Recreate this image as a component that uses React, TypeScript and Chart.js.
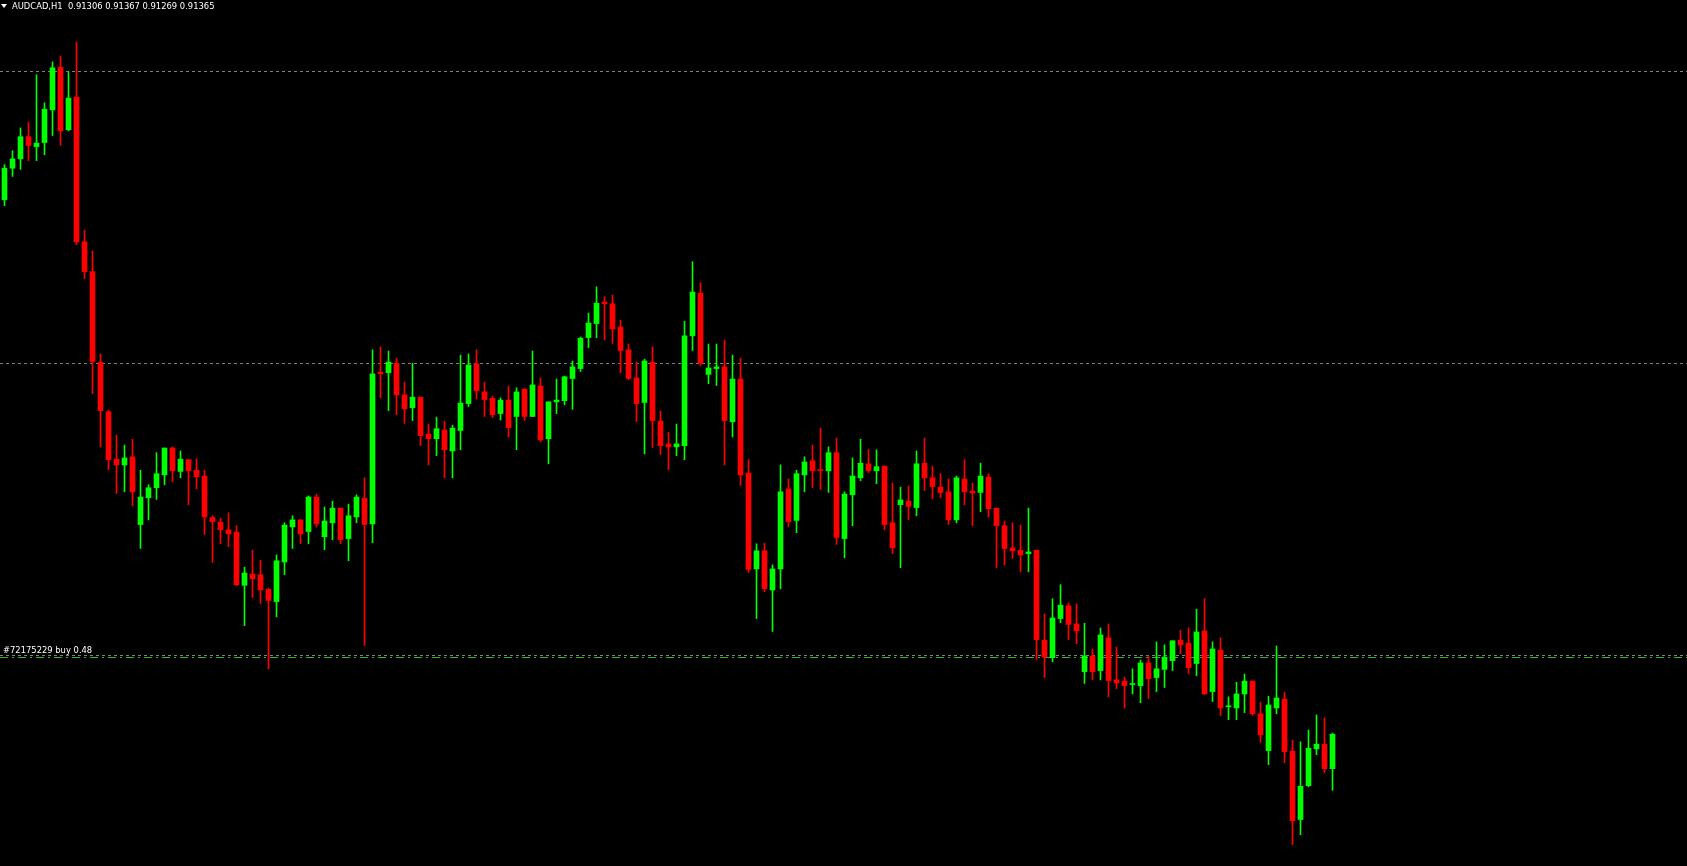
import React, { useEffect, useRef } from "react";
import { Chart, registerables } from "chart.js";

Chart.register(...registerables);

const symbolLabel = "AUDCAD,H1";
const orderLabel = "#72175229 buy 0.48";
const gridLevels = [0.915, 0.92, 0.925];
const orderLevel = 0.91497;
const upColor = "#00FF00";
const downColor = "#FF0000";
const gridColor = "#808080";
const orderColor = "#32B432";

const opens = [
  0.92280, 0.92334, 0.92350, 0.92388, 0.92371, 0.92378, 0.92434, 0.92507, 0.92400, 0.92456,
  0.92208, 0.92157, 0.92002, 0.91917, 0.91836, 0.91826, 0.91840, 0.91724, 0.91770, 0.91787,
  0.91809, 0.91855, 0.91815, 0.91835, 0.91817, 0.91807, 0.91736, 0.91728, 0.91715, 0.91711,
  0.91620, 0.91639, 0.91638, 0.91613, 0.91592, 0.91660, 0.91720, 0.91732, 0.91712, 0.91771,
  0.91703, 0.91727, 0.91752, 0.91700, 0.91737, 0.91769, 0.91725, 0.91985, 0.91984, 0.92000,
  0.91946, 0.91924, 0.91942, 0.91879, 0.91871, 0.91886, 0.91850, 0.91885, 0.91931, 0.91999,
  0.91951, 0.91940, 0.91914, 0.91937, 0.91909, 0.91956, 0.91909, 0.91961, 0.91871, 0.91934,
  0.91936, 0.91974, 0.91991, 0.92044, 0.92068, 0.92105, 0.92102, 0.92062, 0.92023, 0.91975,
  0.91933, 0.92002, 0.91901, 0.91862, 0.91857, 0.91859, 0.92047, 0.92120, 0.91981, 0.91991,
  0.91994, 0.91900, 0.91973, 0.91812, 0.91648, 0.91679, 0.91612, 0.91648, 0.91785, 0.91731,
  0.91809, 0.91833, 0.91818, 0.91816, 0.91847, 0.91700, 0.91775, 0.91804, 0.91828, 0.91816,
  0.91824, 0.91727, 0.91758, 0.91764, 0.91753, 0.91829, 0.91804, 0.91788, 0.91780, 0.91732,
  0.91802, 0.91781, 0.91779, 0.91805, 0.91752, 0.91722, 0.91684, 0.91680, 0.91674, 0.91680,
  0.91526, 0.91496, 0.91563, 0.91585, 0.91554, 0.91472, 0.91499, 0.91474, 0.91530, 0.91458,
  0.91456, 0.91450, 0.91448, 0.91487, 0.91462, 0.91476, 0.91491, 0.91526, 0.91521, 0.91486,
  0.91542, 0.91438, 0.91509, 0.91412, 0.91410, 0.91434, 0.91456, 0.91400, 0.91337, 0.91410,
  0.91425, 0.91336, 0.91219, 0.91277, 0.91340, 0.91348, 0.91306,
];

const highs = [
  0.92340, 0.92364, 0.92403, 0.92413, 0.92494, 0.92446, 0.92516, 0.92526, 0.92499, 0.92550,
  0.92228, 0.92192, 0.92016, 0.91920, 0.91877, 0.91860, 0.91870, 0.91817, 0.91792, 0.91847,
  0.91855, 0.91857, 0.91850, 0.91835, 0.91836, 0.91817, 0.91739, 0.91735, 0.91744, 0.91722,
  0.91651, 0.91680, 0.91663, 0.91615, 0.91672, 0.91727, 0.91739, 0.91732, 0.91773, 0.91776,
  0.91754, 0.91764, 0.91752, 0.91759, 0.91775, 0.91804, 0.92023, 0.92028, 0.92021, 0.92009,
  0.91968, 0.92000, 0.91942, 0.91896, 0.91908, 0.91901, 0.91894, 0.92014, 0.92016, 0.92023,
  0.91968, 0.91944, 0.91941, 0.91961, 0.91958, 0.91956, 0.92021, 0.91975, 0.91934, 0.91973,
  0.91978, 0.92004, 0.92045, 0.92086, 0.92131, 0.92114, 0.92117, 0.92074, 0.92033, 0.92002,
  0.92007, 0.92028, 0.91918, 0.91882, 0.91896, 0.92072, 0.92174, 0.92138, 0.92033, 0.92033,
  0.92040, 0.92014, 0.92009, 0.91835, 0.91691, 0.91692, 0.91655, 0.91826, 0.91802, 0.91817,
  0.91840, 0.91860, 0.91889, 0.91857, 0.91872, 0.91780, 0.91838, 0.91870, 0.91852, 0.91852,
  0.91824, 0.91795, 0.91788, 0.91790, 0.91850, 0.91872, 0.91824, 0.91811, 0.91802, 0.91807,
  0.91835, 0.91795, 0.91829, 0.91811, 0.91752, 0.91730, 0.91727, 0.91723, 0.91752, 0.91680,
  0.91571, 0.91597, 0.91621, 0.91590, 0.91588, 0.91555, 0.91511, 0.91547, 0.91554, 0.91514,
  0.91463, 0.91477, 0.91492, 0.91499, 0.91523, 0.91518, 0.91525, 0.91543, 0.91547, 0.91579,
  0.91597, 0.91523, 0.91530, 0.91429, 0.91454, 0.91468, 0.91456, 0.91420, 0.91430, 0.91516,
  0.91437, 0.91355, 0.91352, 0.91372, 0.91398, 0.91393, 0.91367,
];

const lows = [
  0.92270, 0.92320, 0.92332, 0.92347, 0.92347, 0.92357, 0.92390, 0.92373, 0.92398, 0.92203,
  0.92145, 0.91948, 0.91857, 0.91818, 0.91777, 0.91780, 0.91756, 0.91683, 0.91732, 0.91767,
  0.91792, 0.91797, 0.91804, 0.91758, 0.91785, 0.91707, 0.91659, 0.91691, 0.91686, 0.91619,
  0.91551, 0.91599, 0.91589, 0.91477, 0.91566, 0.91638, 0.91683, 0.91691, 0.91691, 0.91720,
  0.91681, 0.91698, 0.91691, 0.91662, 0.91727, 0.91517, 0.91693, 0.91941, 0.91919, 0.91912,
  0.91897, 0.91902, 0.91859, 0.91826, 0.91842, 0.91804, 0.91804, 0.91852, 0.91926, 0.91939,
  0.91909, 0.91907, 0.91903, 0.91874, 0.91852, 0.91902, 0.91909, 0.91866, 0.91828, 0.91914,
  0.91929, 0.91921, 0.91986, 0.92027, 0.92044, 0.92040, 0.92034, 0.91984, 0.91972, 0.91900,
  0.91845, 0.91856, 0.91844, 0.91818, 0.91842, 0.91835, 0.92022, 0.91996, 0.91965, 0.91962,
  0.91826, 0.91874, 0.91791, 0.91642, 0.91563, 0.91609, 0.91541, 0.91614, 0.91720, 0.91710,
  0.91780, 0.91787, 0.91784, 0.91779, 0.91690, 0.91667, 0.91722, 0.91799, 0.91813, 0.91794,
  0.91715, 0.91674, 0.91650, 0.91732, 0.91739, 0.91782, 0.91768, 0.91770, 0.91724, 0.91727,
  0.91758, 0.91722, 0.91746, 0.91737, 0.91650, 0.91655, 0.91666, 0.91643, 0.91643, 0.91493,
  0.91462, 0.91489, 0.91556, 0.91527, 0.91520, 0.91452, 0.91458, 0.91458, 0.91429, 0.91443,
  0.91410, 0.91434, 0.91419, 0.91426, 0.91438, 0.91445, 0.91474, 0.91503, 0.91469, 0.91465,
  0.91433, 0.91421, 0.91397, 0.91390, 0.91390, 0.91402, 0.91397, 0.91351, 0.91313, 0.91400,
  0.91316, 0.91176, 0.91193, 0.91275, 0.91330, 0.91299, 0.91269,
];

const closes = [
  0.92334, 0.92350, 0.92388, 0.92373, 0.92377, 0.92435, 0.92506, 0.92398, 0.92454, 0.92208,
  0.92157, 0.92003, 0.91919, 0.91835, 0.91826, 0.91838, 0.91780, 0.91771, 0.91787, 0.91811,
  0.91855, 0.91816, 0.91836, 0.91816, 0.91806, 0.91737, 0.91729, 0.91715, 0.91708, 0.91621,
  0.91641, 0.91631, 0.91612, 0.91594, 0.91662, 0.91723, 0.91732, 0.91708, 0.91771, 0.91725,
  0.91730, 0.91752, 0.91698, 0.91739, 0.91771, 0.91724, 0.91982, 0.91982, 0.92002, 0.91946,
  0.91922, 0.91942, 0.91876, 0.91871, 0.91888, 0.91852, 0.91889, 0.91932, 0.91997, 0.91953,
  0.91938, 0.91912, 0.91937, 0.91890, 0.91951, 0.91909, 0.91963, 0.91869, 0.91934, 0.91937,
  0.91977, 0.91994, 0.92043, 0.92069, 0.92103, 0.92102, 0.92059, 0.92022, 0.91974, 0.91931,
  0.92004, 0.91902, 0.91859, 0.91857, 0.91862, 0.92047, 0.92122, 0.92000, 0.91992, 0.91994,
  0.91902, 0.91973, 0.91809, 0.91647, 0.91679, 0.91614, 0.91648, 0.91780, 0.91729, 0.91811,
  0.91831, 0.91816, 0.91816, 0.91847, 0.91702, 0.91776, 0.91807, 0.91829, 0.91816, 0.91823,
  0.91724, 0.91684, 0.91766, 0.91755, 0.91828, 0.91804, 0.91789, 0.91779, 0.91732, 0.91804,
  0.91780, 0.91778, 0.91807, 0.91751, 0.91722, 0.91683, 0.91679, 0.91672, 0.91677, 0.91527,
  0.91497, 0.91564, 0.91586, 0.91553, 0.91542, 0.91499, 0.91472, 0.91535, 0.91457, 0.91453,
  0.91448, 0.91451, 0.91487, 0.91460, 0.91477, 0.91497, 0.91525, 0.91518, 0.91479, 0.91540,
  0.91434, 0.91511, 0.91410, 0.91413, 0.91434, 0.91456, 0.91400, 0.91364, 0.91415, 0.91427,
  0.91335, 0.91217, 0.91276, 0.91341, 0.91348, 0.91306, 0.91365,
];

const W = 1687;
const H = 866;

export default function App() {
  const canvasRef = useRef<HTMLCanvasElement | null>(null);

  useEffect(() => {
    document.body.style.margin = "0";
    document.body.style.background = "#000";
    const canvas = canvasRef.current;
    if (!canvas) return;

    const idx = opens.map((_, i) => i);
    const colors = idx.map((i) => (closes[i] >= opens[i] ? upColor : downColor));

    const levelLines = {
      id: "levelLines",
      beforeDatasetsDraw(chart: any) {
        const { ctx, chartArea, scales } = chart;
        const y = scales.y;
        ctx.save();
        ctx.lineWidth = 1;
        ctx.strokeStyle = gridColor;
        ctx.setLineDash([3, 3]);
        gridLevels.forEach((v) => {
          const py = Math.round(y.getPixelForValue(v)) + 0.5;
          ctx.beginPath();
          ctx.moveTo(chartArea.left, py);
          ctx.lineTo(chartArea.right, py);
          ctx.stroke();
        });
        ctx.strokeStyle = orderColor;
        ctx.setLineDash([8, 4, 2, 4]);
        const oy = Math.round(y.getPixelForValue(orderLevel)) + 0.5;
        ctx.beginPath();
        ctx.moveTo(chartArea.left, oy);
        ctx.lineTo(chartArea.right, oy);
        ctx.stroke();
        ctx.restore();
      },
    };

    const chart = new Chart(canvas, {
      type: "bar",
      data: {
        datasets: [
          {
            label: "wicks",
            data: idx.map((i) => ({ x: i, y: [lows[i], highs[i]] })) as any,
            backgroundColor: colors,
            borderWidth: 0,
            barThickness: 1,
            grouped: false,
            minBarLength: 1,
          } as any,
          {
            label: "bodies",
            data: idx.map((i) => ({ x: i, y: [opens[i], closes[i]] })) as any,
            backgroundColor: colors,
            borderWidth: 0,
            barThickness: 5,
            grouped: false,
            minBarLength: 1,
          } as any,
        ],
      },
      options: {
        animation: false,
        responsive: false,
        maintainAspectRatio: false,
        layout: { padding: 0 },
        plugins: {
          legend: { display: false },
          tooltip: { enabled: false },
          title: { display: false },
        },
        scales: {
          x: {
            type: "linear",
            min: -0.5625,
            max: -0.5625 + W / 8,
            display: false,
            offset: false,
          },
          y: {
            type: "linear",
            min: 0.911394,
            max: 0.92622,
            display: false,
          },
        },
      } as any,
      plugins: [levelLines],
    });

    return () => chart.destroy();
  }, []);

  const last = opens.length - 1;
  const header = `${symbolLabel}  ${opens[last].toFixed(5)} ${highs[last].toFixed(5)} ${lows[last].toFixed(5)} ${closes[last].toFixed(5)}`;

  return (
    <div
      style={{
        position: "fixed",
        left: 0,
        top: 0,
        width: W,
        height: H,
        background: "#000",
        overflow: "hidden",
      }}
    >
      <canvas ref={canvasRef} width={W} height={H} style={{ display: "block", width: W, height: H }} />
      <div
        style={{
          position: "absolute",
          left: 1,
          top: 4,
          width: 0,
          height: 0,
          borderLeft: "3px solid transparent",
          borderRight: "3px solid transparent",
          borderTop: "4px solid #fff",
        }}
      />
      <div
        style={{
          position: "absolute",
          left: 12,
          top: 1,
          color: "#fff",
          font: '8.4px "DejaVu Sans", sans-serif',
          lineHeight: "11px",
          whiteSpace: "pre",
        }}
      >
        {header}
      </div>
      <div
        style={{
          position: "absolute",
          left: 3,
          top: 645,
          color: "#fff",
          font: '8.4px "DejaVu Sans", sans-serif',
          lineHeight: "11px",
          whiteSpace: "pre",
        }}
      >
        {orderLabel}
      </div>
    </div>
  );
}
